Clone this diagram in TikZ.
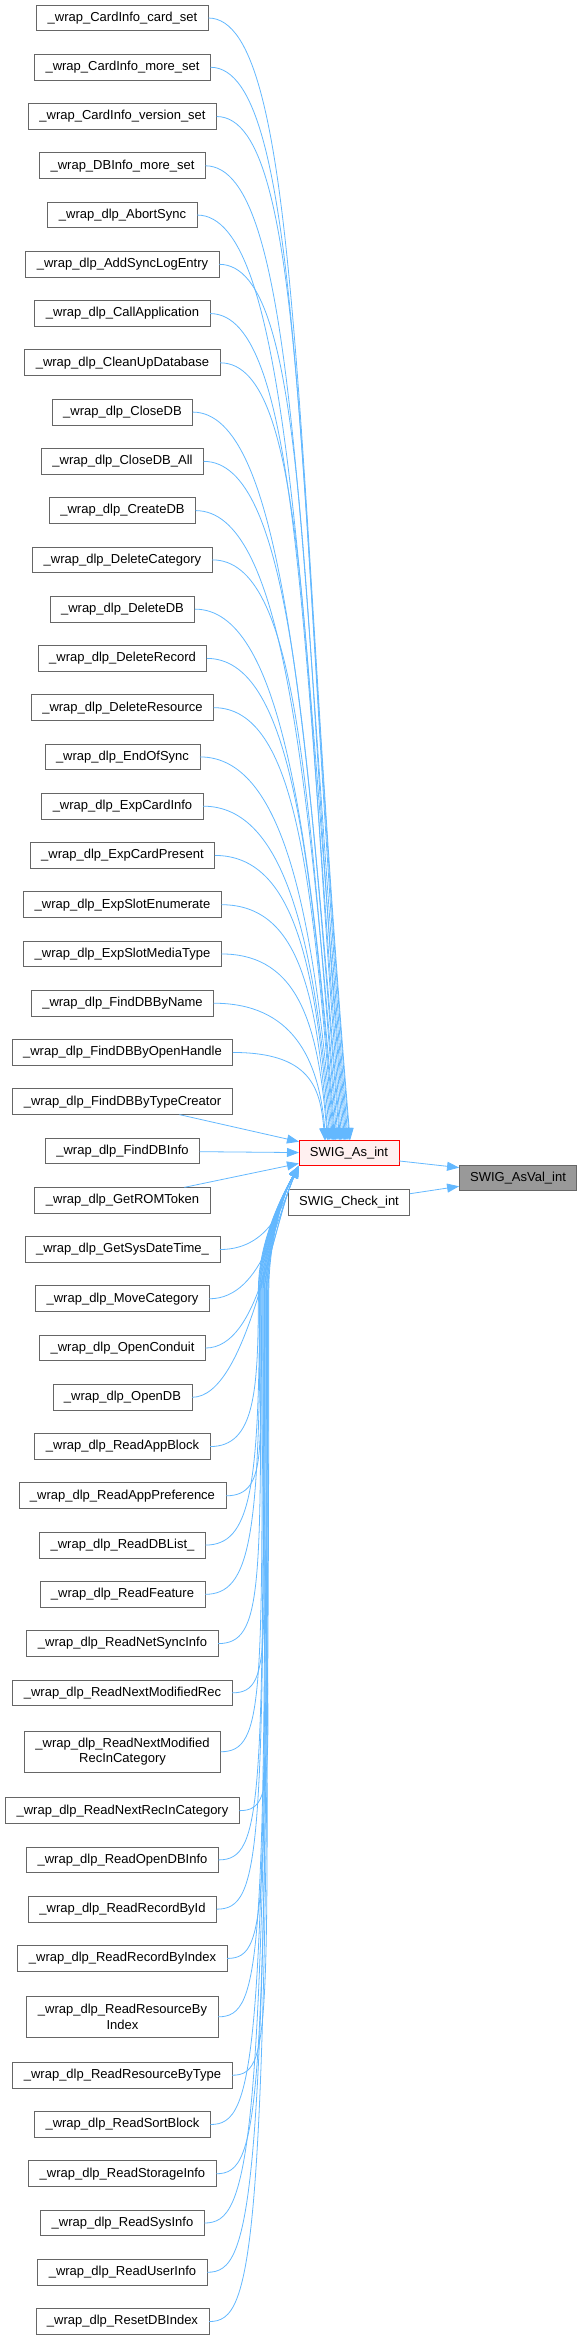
\documentclass[tikz,border=0pt]{standalone}
\usepackage{fontspec}
\setmainfont{Liberation Sans}
\usepackage{tikz}
\usetikzlibrary{arrows.meta, positioning}
\definecolor{edgeblue}{HTML}{63B8FF}
\definecolor{boxgrey}{HTML}{666666}
\definecolor{hotfill}{HTML}{FFF0F0}
\definecolor{deadfill}{HTML}{999999}
\tikzset{
  box/.style={rectangle, draw=boxgrey, fill=white, align=center, inner xsep=11pt, inner ysep=0pt, outer sep=0pt, minimum height=25.8pt, line width=0.9pt},
  box2/.style={box, minimum height=41pt},
  hot/.style={box, draw=red, fill=hotfill},
  dead/.style={box, fill=deadfill},
  line/.style={draw=edgeblue, line width=0.8pt, -{Triangle[length=12pt,width=9pt]}}
}

\begin{document}
\begin{tikzpicture}[x=1pt, y=-1pt, node distance=23.46pt, font=\fontsize{13}{15.3}\selectfont]
    \useasboundingbox (0,0) rectangle (584,2338);
    % callers
    \node[box] (c1) at (122.5,18) {\_wrap\_CardInfo\_card\_set};
    \node[box, below=of c1] (c2) {\_wrap\_CardInfo\_more\_set};
    \node[box, below=of c2] (c3) {\_wrap\_CardInfo\_version\_set};
    \node[box, below=of c3] (c4) {\_wrap\_DBInfo\_more\_set};
    \node[box, below=of c4] (c5) {\_wrap\_dlp\_AbortSync};
    \node[box, below=of c5] (c6) {\_wrap\_dlp\_AddSyncLogEntry};
    \node[box, below=of c6] (c7) {\_wrap\_dlp\_CallApplication};
    \node[box, below=of c7] (c8) {\_wrap\_dlp\_CleanUpDatabase};
    \node[box, below=of c8] (c9) {\_wrap\_dlp\_CloseDB};
    \node[box, below=of c9] (c10) {\_wrap\_dlp\_CloseDB\_All};
    \node[box, below=of c10] (c11) {\_wrap\_dlp\_CreateDB};
    \node[box, below=of c11] (c12) {\_wrap\_dlp\_DeleteCategory};
    \node[box, below=of c12] (c13) {\_wrap\_dlp\_DeleteDB};
    \node[box, below=of c13] (c14) {\_wrap\_dlp\_DeleteRecord};
    \node[box, below=of c14] (c15) {\_wrap\_dlp\_DeleteResource};
    \node[box, below=of c15] (c16) {\_wrap\_dlp\_EndOfSync};
    \node[box, below=of c16] (c17) {\_wrap\_dlp\_ExpCardInfo};
    \node[box, below=of c17] (c18) {\_wrap\_dlp\_ExpCardPresent};
    \node[box, below=of c18] (c19) {\_wrap\_dlp\_ExpSlotEnumerate};
    \node[box, below=of c19] (c20) {\_wrap\_dlp\_ExpSlotMediaType};
    \node[box, below=of c20] (c21) {\_wrap\_dlp\_FindDBByName};
    \node[box, below=of c21] (c22) {\_wrap\_dlp\_FindDBByOpenHandle};
    \node[box, below=of c22] (c23) {\_wrap\_dlp\_FindDBByTypeCreator};
    \node[box, below=of c23] (c24) {\_wrap\_dlp\_FindDBInfo};
    \node[box, below=of c24] (c25) {\_wrap\_dlp\_GetROMToken};
    \node[box, below=of c25] (c26) {\_wrap\_dlp\_GetSysDateTime\_};
    \node[box, below=of c26] (c27) {\_wrap\_dlp\_MoveCategory};
    \node[box, below=of c27] (c28) {\_wrap\_dlp\_OpenConduit};
    \node[box, below=of c28] (c29) {\_wrap\_dlp\_OpenDB};
    \node[box, below=of c29] (c30) {\_wrap\_dlp\_ReadAppBlock};
    \node[box, below=of c30] (c31) {\_wrap\_dlp\_ReadAppPreference};
    \node[box, below=of c31] (c32) {\_wrap\_dlp\_ReadDBList\_};
    \node[box, below=of c32] (c33) {\_wrap\_dlp\_ReadFeature};
    \node[box, below=of c33] (c34) {\_wrap\_dlp\_ReadNetSyncInfo};
    \node[box, below=of c34] (c35) {\_wrap\_dlp\_ReadNextModifiedRec};
    \node[box2, below=25.5pt of c35] (c36) {\_wrap\_dlp\_ReadNextModified\\RecInCategory};
    \node[box, below=25.5pt of c36] (c37) {\_wrap\_dlp\_ReadNextRecInCategory};
    \node[box, below=of c37] (c38) {\_wrap\_dlp\_ReadOpenDBInfo};
    \node[box, below=of c38] (c39) {\_wrap\_dlp\_ReadRecordById};
    \node[box, below=of c39] (c40) {\_wrap\_dlp\_ReadRecordByIndex};
    \node[box2, below=25pt of c40] (c41) {\_wrap\_dlp\_ReadResourceBy\\Index};
    \node[box, below=25pt of c41] (c42) {\_wrap\_dlp\_ReadResourceByType};
    \node[box, below=of c42] (c43) {\_wrap\_dlp\_ReadSortBlock};
    \node[box, below=of c43] (c44) {\_wrap\_dlp\_ReadStorageInfo};
    \node[box, below=of c44] (c45) {\_wrap\_dlp\_ReadSysInfo};
    \node[box, below=of c45] (c46) {\_wrap\_dlp\_ReadUserInfo};
    \node[box, below=of c46] (c47) {\_wrap\_dlp\_ResetDBIndex};
    % callees
    \node[hot] (asint) at (349,1153) {SWIG\_As\_int};
    \node[box, below=of asint] (chk) {SWIG\_Check\_int};
    \node[dead] (asval) at (518,1178) {SWIG\_AsVal\_int};
    % edges into the top of SWIG_As_int
    \foreach \i in {1,...,22}{
      \pgfmathsetmacro{\dy}{1122-49.26*(\i-1)}
      \pgfmathsetmacro{\tx}{322+28*min(1,\dy/1100)}
      \pgfmathtruncatemacro{\ang}{atan2(13,\tx-349)}
      \pgfmathsetmacro{\ca}{0.65*(\tx-205)}
      \draw[line] (c\i.east) .. controls +(\ca,0) and +({-0.05*\dy},{-0.6*\dy}) .. (asint.\ang);
    }
    \draw[line] (c23) -- (asint);
    \draw[line] (c24) -- (asint);
    \draw[line] (c25) -- (asint);
    % edges into the bottom left corner
    \foreach \i in {26,...,29}{
      \pgfmathsetmacro{\dy}{18+49.26*(\i-1)-1166}
      \pgfmathsetmacro{\lc}{min(62,0.35*\dy)}
      \draw[line] (c\i.east) .. controls +(55,0) and +({-0.42*\lc},{0.906*\lc}) .. (asint.south west);
    }
    \foreach \i in {30,...,47}{
      \pgfmathsetmacro{\dy}{18+49.26*(\i-1)+10*(\i>35)+9*(\i>36)+8*(\i>40)+8*(\i>41)-1166}
      \pgfmathsetmacro{\bx}{255+0.012*\dy}
      \draw[line] (c\i.east) .. controls +(45,0) and (\bx,{\dy+1111}) .. (\bx,1290)
        .. controls (\bx,1240) and (284,1192) .. (asint.south west);
    }
    \draw[line] (asint.-9) -- (asval.170);
    \draw[line] (chk.8) -- (asval.188);
  \end{tikzpicture}
\end{document}
